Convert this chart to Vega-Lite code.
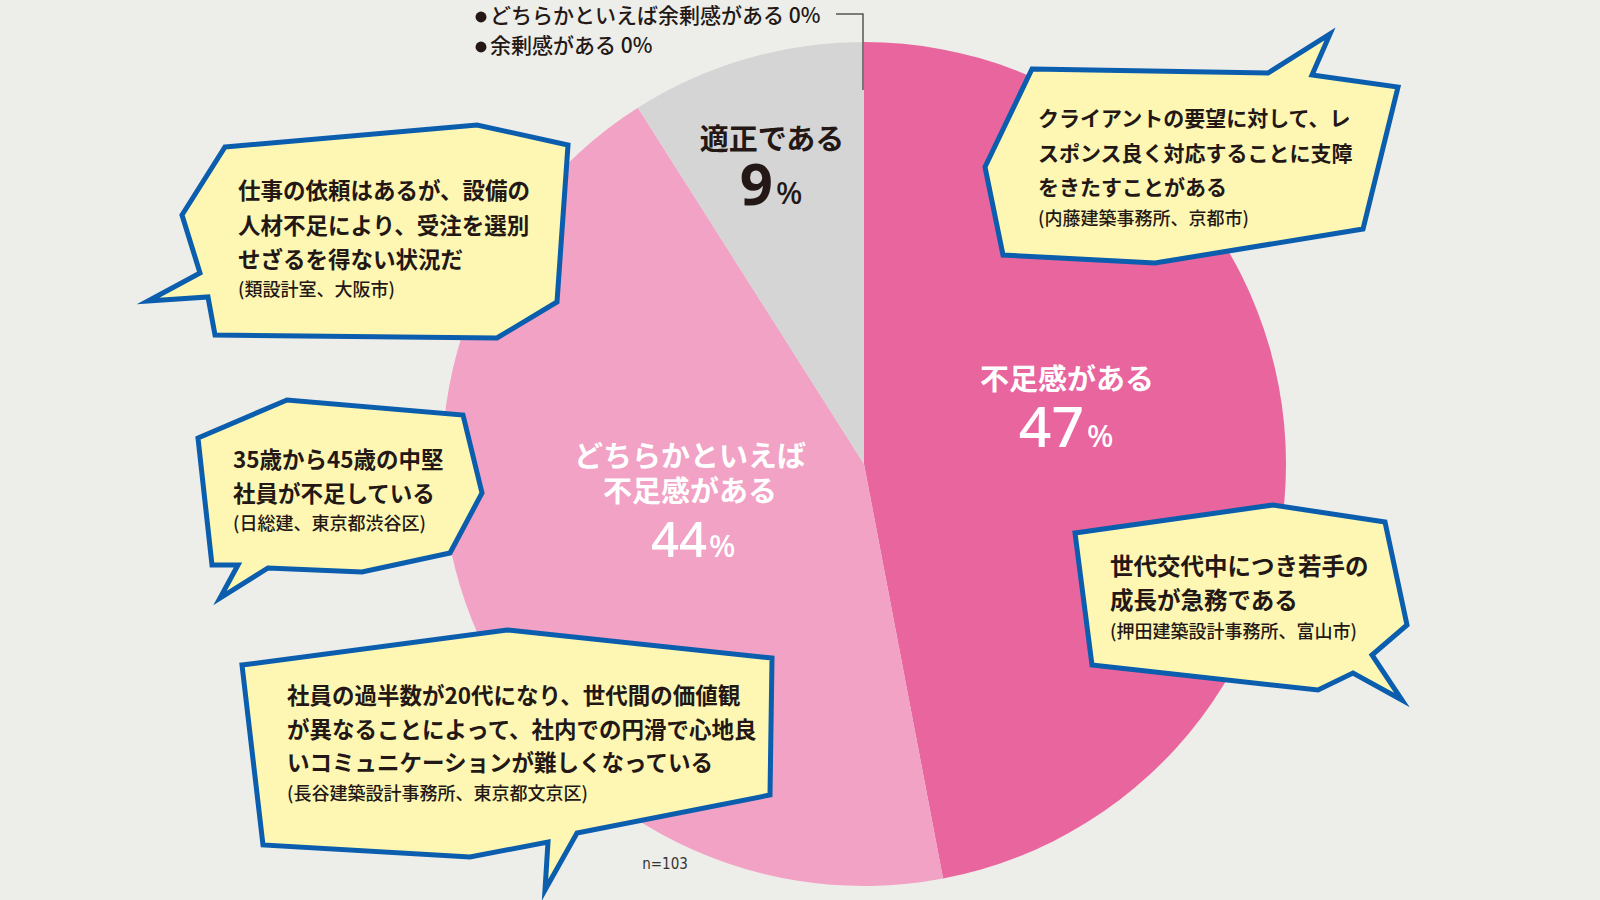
{
  "$schema": "https://vega.github.io/schema/vega-lite/v6.json",
  "width": 1600,
  "height": 900,
  "padding": 0,
  "autosize": {"type": "none"},
  "background": "#EDEDE9",
  "config": {"view": {"stroke": null}},
  "datasets": {
    "pie": [
      {"cat": "不足感がある", "v": 47, "k": 1},
      {"cat": "どちらかといえば不足感がある", "v": 44, "k": 2},
      {"cat": "適正である", "v": 9, "k": 3},
      {"cat": "どちらかといえば余剰感がある", "v": 0, "k": 4},
      {"cat": "余剰感がある", "v": 0, "k": 5}
    ],
    "bubbles": [
      {"b": 1, "i": 0, "x": 225, "y": 147}, {"b": 1, "i": 1, "x": 477, "y": 125}, {"b": 1, "i": 2, "x": 568, "y": 145}, {"b": 1, "i": 3, "x": 557, "y": 302}, {"b": 1, "i": 4, "x": 497, "y": 338}, {"b": 1, "i": 5, "x": 215, "y": 335}, {"b": 1, "i": 6, "x": 208, "y": 297}, {"b": 1, "i": 7, "x": 148, "y": 301}, {"b": 1, "i": 8, "x": 200, "y": 273}, {"b": 1, "i": 9, "x": 182, "y": 215},
      {"b": 2, "i": 0, "x": 1032, "y": 69}, {"b": 2, "i": 1, "x": 1268, "y": 73}, {"b": 2, "i": 2, "x": 1330, "y": 34}, {"b": 2, "i": 3, "x": 1312, "y": 75}, {"b": 2, "i": 4, "x": 1398, "y": 87}, {"b": 2, "i": 5, "x": 1363, "y": 229}, {"b": 2, "i": 6, "x": 1155, "y": 263}, {"b": 2, "i": 7, "x": 1003, "y": 255}, {"b": 2, "i": 8, "x": 985, "y": 167},
      {"b": 3, "i": 0, "x": 198, "y": 438}, {"b": 3, "i": 1, "x": 287, "y": 400}, {"b": 3, "i": 2, "x": 463, "y": 415}, {"b": 3, "i": 3, "x": 482, "y": 493}, {"b": 3, "i": 4, "x": 450, "y": 553}, {"b": 3, "i": 5, "x": 362, "y": 572}, {"b": 3, "i": 6, "x": 268, "y": 568}, {"b": 3, "i": 7, "x": 220, "y": 598}, {"b": 3, "i": 8, "x": 238, "y": 565}, {"b": 3, "i": 9, "x": 212, "y": 565},
      {"b": 4, "i": 0, "x": 1075, "y": 533}, {"b": 4, "i": 1, "x": 1273, "y": 505}, {"b": 4, "i": 2, "x": 1385, "y": 522}, {"b": 4, "i": 3, "x": 1407, "y": 625}, {"b": 4, "i": 4, "x": 1372, "y": 655}, {"b": 4, "i": 5, "x": 1402, "y": 700}, {"b": 4, "i": 6, "x": 1353, "y": 673}, {"b": 4, "i": 7, "x": 1318, "y": 690}, {"b": 4, "i": 8, "x": 1092, "y": 665},
      {"b": 5, "i": 0, "x": 242, "y": 665}, {"b": 5, "i": 1, "x": 507, "y": 630}, {"b": 5, "i": 2, "x": 772, "y": 658}, {"b": 5, "i": 3, "x": 770, "y": 795}, {"b": 5, "i": 4, "x": 577, "y": 833}, {"b": 5, "i": 5, "x": 545, "y": 890}, {"b": 5, "i": 6, "x": 548, "y": 842}, {"b": 5, "i": 7, "x": 470, "y": 857}, {"b": 5, "i": 8, "x": 263, "y": 845}
    ],
    "connector": [
      {"i": 0, "x": 836, "y": 14}, {"i": 1, "x": 863, "y": 14}, {"i": 2, "x": 863, "y": 90}
    ],
    "quotes": [
      {"b": 1, "x": 238, "y": 192, "t": "仕事の依頼はあるが、設備の"},
      {"b": 1, "x": 238, "y": 227, "t": "人材不足により、受注を選別"},
      {"b": 1, "x": 238, "y": 261, "t": "せざるを得ない状況だ"},
      {"b": 2, "x": 1038, "y": 120, "t": "クライアントの要望に対して、レ"},
      {"b": 2, "x": 1038, "y": 155, "t": "スポンス良く対応することに支障"},
      {"b": 2, "x": 1038, "y": 189, "t": "をきたすことがある"},
      {"b": 3, "x": 233, "y": 461, "t": "35歳から45歳の中堅"},
      {"b": 3, "x": 233, "y": 495, "t": "社員が不足している"},
      {"b": 4, "x": 1110, "y": 568, "t": "世代交代中につき若手の"},
      {"b": 4, "x": 1110, "y": 602, "t": "成長が急務である"},
      {"b": 5, "x": 287, "y": 697, "t": "社員の過半数が20代になり、世代間の価値観"},
      {"b": 5, "x": 287, "y": 731, "t": "が異なることによって、社内での円滑で心地良"},
      {"b": 5, "x": 287, "y": 764, "t": "いコミュニケーションが難しくなっている"}
    ],
    "sources": [
      {"x": 238, "y": 291, "t": "(類設計室、大阪市)"},
      {"x": 1038, "y": 220, "t": "(内藤建築事務所、京都市)"},
      {"x": 233, "y": 525, "t": "(日総建、東京都渋谷区)"},
      {"x": 1110, "y": 633, "t": "(押田建築設計事務所、富山市)"},
      {"x": 287, "y": 795, "t": "(長谷建築設計事務所、東京都文京区)"}
    ],
    "sliceLabels": [
      {"x": 1067, "y": 381, "t": "不足感がある", "dark": false},
      {"x": 690, "y": 458, "t": "どちらかといえば", "dark": false},
      {"x": 690, "y": 493, "t": "不足感がある", "dark": false},
      {"x": 772, "y": 141, "t": "適正である", "dark": true}
    ],
    "sliceNumbers": [
      {"x": 1084, "y": 447, "t": "47", "dark": false},
      {"x": 707, "y": 557, "t": "44", "dark": false}
    ],
    "sliceNumbersDark": [
      {"x": 773, "y": 205, "t": "9", "dark": true}
    ],
    "slicePct": [
      {"x": 1087, "y": 447, "t": "%", "dark": false},
      {"x": 709, "y": 557, "t": "%", "dark": false},
      {"x": 776, "y": 204, "t": "%", "dark": true}
    ],
    "legendTop": [
      {"x": 490, "bx": 481, "y": 17, "t": "どちらかといえば余剰感がある 0%"},
      {"x": 490, "bx": 481, "y": 47, "t": "余剰感がある 0%"}
    ],
    "note": [
      {"x": 665, "y": 864, "t": "n=103"}
    ]
  },
  "layer": [
    {
      "data": {"name": "pie"},
      "mark": {"type": "arc", "outerRadius": 422, "stroke": null},
      "encoding": {
        "x": {"datum": 864, "type": "quantitative", "scale": {"domain": [0, 1600], "nice": false, "zero": false}, "axis": null},
        "y": {"datum": 464, "type": "quantitative", "scale": {"domain": [0, 900], "nice": false, "zero": false, "reverse": true}, "axis": null},
        "theta": {"field": "v", "type": "quantitative", "stack": true},
        "order": {"field": "k", "type": "quantitative"},
        "color": {"field": "cat", "type": "nominal", "legend": null,
          "scale": {"domain": ["不足感がある", "どちらかといえば不足感がある", "適正である", "どちらかといえば余剰感がある", "余剰感がある"],
                    "range": ["#E8659E", "#F1A2C5", "#D5D5D5", "#BBBBBB", "#999999"]}}
      }
    },
    {
      "data": {"name": "bubbles"},
      "mark": {"type": "line", "interpolate": "linear-closed", "fill": "#FEF7B3", "stroke": "#0B5DAD", "strokeWidth": 5, "strokeJoin": "miter", "strokeMiterLimit": 20},
      "encoding": {
        "x": {"field": "x", "type": "quantitative", "scale": {"domain": [0, 1600], "nice": false, "zero": false}, "axis": null},
        "y": {"field": "y", "type": "quantitative", "scale": {"domain": [0, 900], "nice": false, "zero": false, "reverse": true}, "axis": null},
        "detail": {"field": "b", "type": "nominal"},
        "order": {"field": "i", "type": "quantitative"}
      }
    },
    {
      "data": {"name": "connector"},
      "mark": {"type": "line", "stroke": "#555555", "strokeWidth": 1.5},
      "encoding": {
        "x": {"field": "x", "type": "quantitative"},
        "y": {"field": "y", "type": "quantitative"},
        "order": {"field": "i", "type": "quantitative"}
      }
    },
    {
      "data": {"name": "quotes"},
      "mark": {"type": "text", "align": "left", "baseline": "middle", "font": "Noto Sans CJK JP", "fontWeight": "bold", "color": "#231815"},
      "encoding": {
        "x": {"field": "x", "type": "quantitative"},
        "y": {"field": "y", "type": "quantitative"},
        "text": {"field": "t"},
        "size": {"condition": [{"test": "datum.b === 2", "value": 21}, {"test": "datum.b === 4", "value": 23.5}], "value": 22.5}
      }
    },
    {
      "data": {"name": "sources"},
      "mark": {"type": "text", "align": "left", "baseline": "middle", "font": "Noto Sans CJK JP", "fontWeight": 500, "fontSize": 18, "color": "#231815"},
      "encoding": {
        "x": {"field": "x", "type": "quantitative"},
        "y": {"field": "y", "type": "quantitative"},
        "text": {"field": "t"}
      }
    },
    {
      "data": {"name": "sliceLabels"},
      "mark": {"type": "text", "align": "center", "baseline": "middle", "font": "Noto Sans CJK JP", "fontWeight": "bold", "fontSize": 29},
      "encoding": {
        "x": {"field": "x", "type": "quantitative"},
        "y": {"field": "y", "type": "quantitative"},
        "text": {"field": "t"},
        "color": {"condition": {"test": "datum.dark", "value": "#231815"}, "value": "#FFFFFF"}
      }
    },
    {
      "data": {"name": "sliceNumbers"},
      "mark": {"type": "text", "align": "right", "baseline": "alphabetic", "font": "Noto Sans", "fontWeight": 500, "color": "#FFFFFF"},
      "encoding": {
        "x": {"field": "x", "type": "quantitative"},
        "y": {"field": "y", "type": "quantitative"},
        "text": {"field": "t"},
        "size": {"condition": {"test": "datum.t === '44'", "value": 49}, "value": 57}
      }
    },
    {
      "data": {"name": "sliceNumbersDark"},
      "mark": {"type": "text", "align": "right", "baseline": "alphabetic", "font": "Noto Sans", "fontWeight": "bold", "fontSize": 58, "color": "#231815"},
      "encoding": {
        "x": {"field": "x", "type": "quantitative"},
        "y": {"field": "y", "type": "quantitative"},
        "text": {"field": "t"}
      }
    },
    {
      "data": {"name": "slicePct"},
      "mark": {"type": "text", "align": "left", "baseline": "alphabetic", "font": "Noto Sans", "fontWeight": 500, "fontSize": 31},
      "encoding": {
        "x": {"field": "x", "type": "quantitative"},
        "y": {"field": "y", "type": "quantitative"},
        "text": {"field": "t"},
        "color": {"condition": {"test": "datum.dark", "value": "#231815"}, "value": "#FFFFFF"}
      }
    },
    {
      "data": {"name": "legendTop"},
      "mark": {"type": "circle", "size": 120, "color": "#231815", "opacity": 1},
      "encoding": {
        "x": {"field": "bx", "type": "quantitative"},
        "y": {"field": "y", "type": "quantitative"}
      }
    },
    {
      "data": {"name": "legendTop"},
      "mark": {"type": "text", "align": "left", "baseline": "middle", "font": "Noto Sans CJK JP", "fontWeight": 500, "fontSize": 21, "color": "#231815"},
      "encoding": {
        "x": {"field": "x", "type": "quantitative"},
        "y": {"field": "y", "type": "quantitative"},
        "text": {"field": "t"}
      }
    },
    {
      "data": {"name": "note"},
      "mark": {"type": "text", "align": "center", "baseline": "middle", "font": "'DejaVu Sans Condensed', 'Liberation Sans', sans-serif", "fontSize": 15, "color": "#333333"},
      "encoding": {
        "x": {"field": "x", "type": "quantitative"},
        "y": {"field": "y", "type": "quantitative"},
        "text": {"field": "t"}
      }
    }
  ]
}
